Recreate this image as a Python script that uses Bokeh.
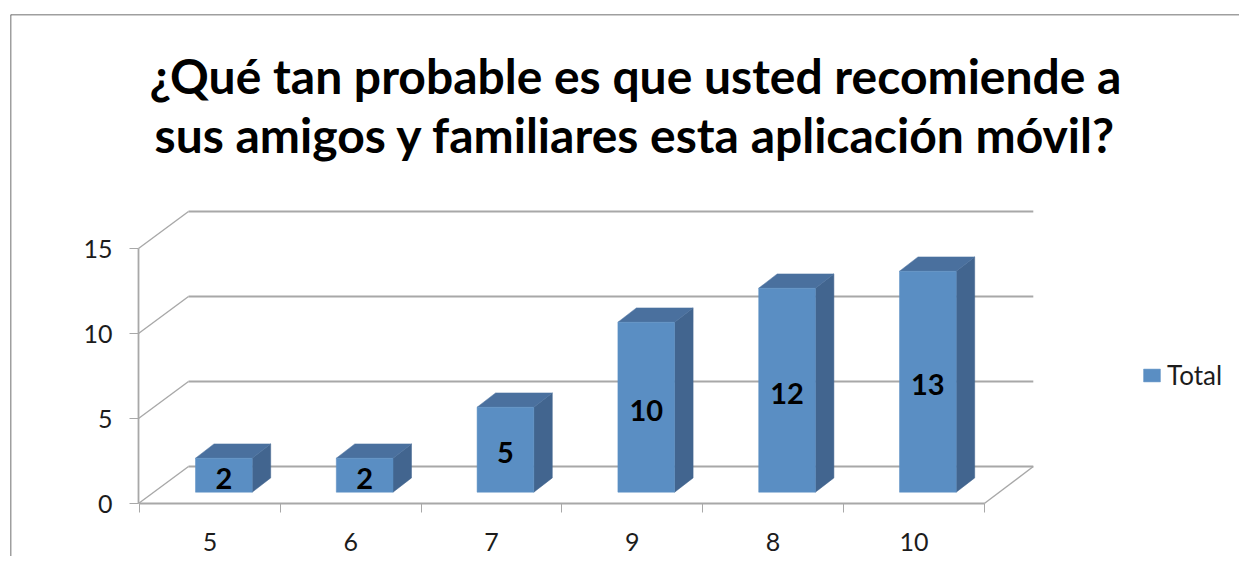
from bokeh.plotting import figure
from bokeh.embed import file_html
from bokeh.resources import INLINE
from bokeh.models import FixedTicker, Range1d, Span, Label
from bokeh.core.properties import value

categories = ["5", "6", "7", "9", "8", "10"]
values = [2, 2, 5, 10, 12, 13]
y_ticks = [0, 5, 10, 15]
title_lines = ["¿Qué tan probable es que usted recomiende a",
               "sus amigos y familiares esta aplicación móvil?"]
series_name = "Total"

PX_PER_CAT = 140.8
PX_PER_VAL = 17.0
ORIGIN_X, ORIGIN_Y = 139.0, 503.0   # position of (0, 0)
FRAME_L, FRAME_T, FRAME_R, FRAME_B = 10, 14, 1239, 556


def dx(px):
    return px / PX_PER_CAT


def dy(px):
    return px / PX_PER_VAL


def X(page_x):
    return (page_x - ORIGIN_X) / PX_PER_CAT


def Y(page_y):
    return (ORIGIN_Y - page_y) / PX_PER_VAL


FONT = "Lato"
GRID = "#a8a8a8"
FRONT, TOP, SIDE = "#5a8ec3", "#4a709e", "#42658f"
TEXT = "#1c1c1c"

n = len(categories)
p = figure(width=1239, height=556, output_backend="svg", toolbar_location=None,
           x_range=Range1d(X(FRAME_L), X(FRAME_R)), y_range=Range1d(Y(FRAME_B), Y(FRAME_T)),
           min_border_left=FRAME_L, min_border_top=FRAME_T, min_border_right=0, min_border_bottom=0,
           outline_line_color=None, background_fill_color="white", border_fill_color="white")
p.grid.visible = False

# wall depth
WALL_X, WALL_Y = dx(49), dy(37)
# grid lines on the back wall with their diagonals on the side wall
p.segment(x0=[WALL_X] * len(y_ticks), y0=[t + WALL_Y for t in y_ticks],
          x1=[n + WALL_X] * len(y_ticks), y1=[t + WALL_Y for t in y_ticks],
          line_color=GRID, line_width=1.8)
p.segment(x0=[X(138)] * len(y_ticks), y0=y_ticks,
          x1=[WALL_X] * len(y_ticks), y1=[t + WALL_Y for t in y_ticks],
          line_color=GRID, line_width=1.4)
# floor's right edge
p.segment(x0=[n], y0=[0], x1=[n + WALL_X], y1=[WALL_Y], line_color=GRID, line_width=1.4)

# axes
xa = p.xaxis[0]
xa.fixed_location = 0
xa.bounds = (0, n)
xa.ticker = FixedTicker(ticks=[i + 0.5 for i in range(n)], minor_ticks=list(range(n + 1)))
xa.major_label_overrides = {i + 0.5: c for i, c in enumerate(categories)}
xa.major_tick_line_color = None
xa.major_tick_out = 0
xa.major_tick_in = 0
xa.minor_tick_in = 0
xa.minor_tick_out = 9
xa.minor_tick_line_color = GRID
xa.axis_line_color = GRID
xa.axis_line_width = 1.8
xa.major_label_standoff = 20
xa.major_label_text_font = FONT
xa.major_label_text_font_size = "25px"
xa.major_label_text_color = TEXT

ya = p.yaxis[0]
ya.fixed_location = X(138)
ya.bounds = (0, 15)
ya.ticker = FixedTicker(ticks=y_ticks)
ya.minor_tick_line_color = None
ya.major_tick_in = 0
ya.major_tick_out = 9
ya.major_tick_line_color = GRID
ya.axis_line_color = GRID
ya.axis_line_width = 1.8
ya.major_label_standoff = 17
ya.major_label_text_font = FONT
ya.major_label_text_font_size = "25px"
ya.major_label_text_color = TEXT

# 3D bars
BAR_L, BAR_W = dx(56), dx(56.7)
BASE = dy(11.3)
DEPTH_X, DEPTH_Y = dx(18.5), dy(14.3)
lefts = [i + BAR_L for i in range(n)]
rights = [l + BAR_W for l in lefts]
tops = [BASE + v for v in values]

p.patches(xs=[[r, r + DEPTH_X, r + DEPTH_X, r] for r in rights],
          ys=[[BASE, BASE + DEPTH_Y, t + DEPTH_Y, t] for t in tops],
          fill_color=SIDE, line_color=SIDE, line_width=0.5)
p.patches(xs=[[l, l + DEPTH_X, r + DEPTH_X, r] for l, r in zip(lefts, rights)],
          ys=[[t, t + DEPTH_Y, t + DEPTH_Y, t] for t in tops],
          fill_color=TOP, line_color=TOP, line_width=0.5)
p.quad(left=lefts, right=rights, bottom=[BASE] * n, top=tops,
       fill_color=FRONT, line_color=FRONT, line_width=0.5, legend_label=series_name)

# data labels
p.text(x=[(l + r) / 2 for l, r in zip(lefts, rights)],
       y=[BASE + v / 2 - dy(3) for v in values],
       text=[str(v) for v in values],
       text_font=value(FONT), text_font_style="bold", text_font_size="29px",
       text_color="black", text_align="center", text_baseline="middle")

# legend
leg = p.legend[0]
leg.location = (1141 - FRAME_L, FRAME_B - 391)
leg.background_fill_color = None
leg.border_line_color = None
leg.padding = 0
leg.margin = 0
leg.glyph_width = 21
leg.glyph_height = 16
leg.label_standoff = 5
leg.label_text_font = FONT
leg.label_text_font_size = "26px"
leg.label_text_color = TEXT

# title
for line, base_y in zip(title_lines, [75, 134]):
    p.add_layout(Label(x=X(635), y=Y(base_y), text=line, text_align="center",
                       text_baseline="alphabetic", text_font=FONT,
                       text_font_style="bold", text_font_size="48px", text_color="black"))

# chart's border, top and left only are inside the picture
p.add_layout(Span(location=X(FRAME_L), dimension="height", line_color="#404040", line_width=1.5))
p.add_layout(Span(location=Y(FRAME_T), dimension="width", line_color="#404040", line_width=1.5))

open("out.html", "w").write(file_html(p, INLINE))
